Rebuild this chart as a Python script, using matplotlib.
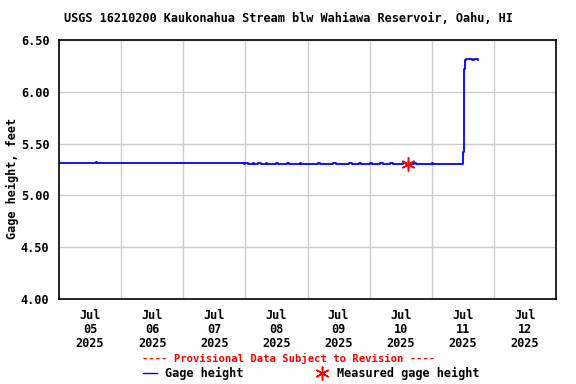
import numpy as np
import matplotlib
matplotlib.use('Agg')
import matplotlib.pyplot as plt
from datetime import datetime, timedelta

# Данные (часы от 05 июля 00:00 и уровень, футы)
start = datetime(2025, 7, 5)
gage_hours = [0, 14, 14.3, 14.6, 71, 71.5, 72, 73, 75, 75.5, 77, 78, 80, 80.5,
              84, 84.5, 88, 89, 93, 93.5, 100, 101, 106, 107, 112, 113,
              116, 116.5, 120, 121, 124, 125, 128, 129, 133, 134, 137, 138,
              144, 144.5, 156, 156.2, 156.4, 156.8, 157.2, 158.5, 159.5,
              160.5, 161.8]
gage_ft = [5.31, 5.31, 5.32, 5.31, 5.31, 5.30, 5.31, 5.30, 5.31, 5.30, 5.31, 5.30,
           5.31, 5.30, 5.31, 5.30, 5.31, 5.30, 5.31, 5.30, 5.31, 5.30, 5.31, 5.30,
           5.31, 5.30, 5.31, 5.30, 5.31, 5.30, 5.31, 5.30, 5.31, 5.30, 5.31, 5.30,
           5.31, 5.30, 5.31, 5.30, 5.31, 5.42, 6.22, 6.31, 6.32, 6.32, 6.31,
           6.32, 6.31]
meas_hours = [135]
meas_ft = [5.30]

title = 'USGS 16210200 Kaukonahua Stream blw Wahiawa Reservoir, Oahu, HI'
y_ticks = [4.00, 4.50, 5.00, 5.50, 6.00, 6.50]

plt.rcParams['font.family'] = 'DejaVu Sans Mono'
plt.rcParams['font.weight'] = 'bold'
plt.rcParams['axes.labelweight'] = 'bold'
plt.rcParams['font.size'] = 8.6

t_gage = [start + timedelta(hours=h) for h in gage_hours]
t_meas = [start + timedelta(hours=h) for h in meas_hours]

fig = plt.figure(figsize=(5.76, 3.84), dpi=100)
ax = fig.add_axes([59/576, 1 - 299/384, 497/576, 259/384])

ax.plot(t_gage, gage_ft, color='#0000ff', lw=1.3, drawstyle='steps-post')
ax.plot(t_meas, meas_ft, ls='none', color='red', ms=10, mew=1.1,
        marker=(6, 2, 0))

ax.set_xlim(start, start + timedelta(days=8))
ax.set_ylim(4.0, 6.5)
ax.set_yticks(y_ticks)
ax.set_yticklabels([f'{v:.2f}' for v in y_ticks])

day_lines = [start + timedelta(days=d) for d in range(1, 8)]
ax.set_xticks(day_lines)
ax.set_xticklabels([])
ax.set_xticks([start + timedelta(days=d, hours=12) for d in range(8)], minor=True)
ax.set_xticklabels([(start + timedelta(days=d)).strftime('Jul\n%d\n%Y') for d in range(8)],
                   minor=True, linespacing=1.1)
ax.tick_params(axis='both', which='both', length=0, pad=7)
ax.grid(True, which='major', color='#cccccc', lw=1)
ax.set_axisbelow(True)
for s in ax.spines.values():
    s.set_linewidth(1.2)

fig.text(12/576, 1 - 178/384, 'Gage height, feet', rotation=90,
         ha='center', va='center')
fig.text(0.5, 1 - 19/384, title, ha='center', va='center')

fig.text(289/576, 1 - 358/384, '---- Provisional Data Subject to Revision ----',
         ha='center', va='center', color='red', fontsize=7.6)
fig.lines.append(plt.Line2D([143/576, 157/576], [1 - 373/384] * 2, color='#0000ff', lw=1,
                            transform=fig.transFigure))
fig.text(165/576, 1 - 373/384, 'Gage height', va='center')
fig.lines.append(plt.Line2D([322/576], [1 - 373/384], color='red', marker=(6, 2, 0),
                            ms=10, mew=1.1, ls='none', transform=fig.transFigure))
fig.text(337/576, 1 - 373/384, 'Measured gage height', va='center')

fig.savefig('out.png', dpi=100)
